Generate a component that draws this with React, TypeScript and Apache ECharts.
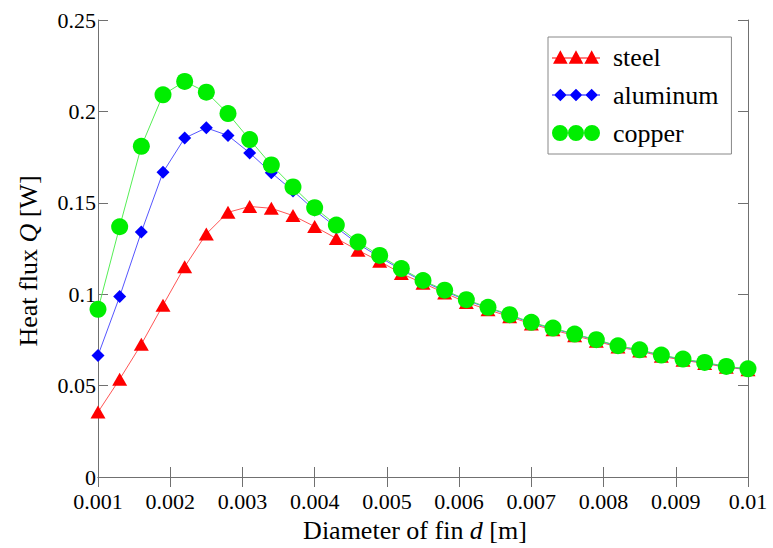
import React, { useEffect, useRef } from "react";
import * as echarts from "echarts";

const diameters = [
  0.001, 0.0013, 0.0016, 0.0019, 0.0022, 0.0025, 0.0028, 0.0031, 0.0034, 0.0037,
  0.004, 0.0043, 0.0046, 0.0049, 0.0052, 0.0055, 0.0058, 0.0061, 0.0064, 0.0067,
  0.007, 0.0073, 0.0076, 0.0079, 0.0082, 0.0085, 0.0088, 0.0091, 0.0094, 0.0097, 0.01,
];

const steel = [
  0.0355, 0.0535, 0.0726, 0.094, 0.115, 0.133, 0.1448, 0.148, 0.147, 0.143,
  0.137, 0.1305, 0.124, 0.118, 0.1113, 0.106, 0.1007, 0.0955, 0.0915, 0.0877,
  0.0837, 0.0805, 0.0773, 0.0743, 0.0711, 0.0689, 0.066, 0.0639, 0.0621, 0.06, 0.0587,
];

const aluminum = [
  0.0665, 0.0987, 0.134, 0.1667, 0.1854, 0.191, 0.1868, 0.1773, 0.1665, 0.1565,
  0.146, 0.1365, 0.1275, 0.1203, 0.1133, 0.107, 0.1017, 0.0966, 0.0925, 0.0885,
  0.0843, 0.0812, 0.078, 0.0749, 0.0716, 0.0694, 0.0665, 0.0643, 0.0625, 0.0603, 0.059,
];

const copper = [
  0.0917, 0.1369, 0.1809, 0.2091, 0.2164, 0.2105, 0.1988, 0.1846, 0.1707, 0.1587,
  0.1473, 0.1378, 0.1285, 0.1212, 0.114, 0.1075, 0.1022, 0.097, 0.0928, 0.0888,
  0.0846, 0.0815, 0.0782, 0.0751, 0.0718, 0.0696, 0.0667, 0.0645, 0.0627, 0.0605, 0.0592,
];

const seriesNames = ["steel", "aluminum", "copper"];
const xTitle = ["Diameter of fin ", "d", " [m]"];
const yTitle = ["Heat flux ", "Q", " [W]"];

const FONT = "Liberation Serif";
const AXIS_COLOR = "#707070";

const triIcon =
  "path://M1 14 L8 1 L15 14 Z M16 14 L23 1 L30 14 Z M31 14 L38 1 L45 14 Z M0 8 L46 8 L46 9 L0 9 Z";
const diaIcon =
  "path://M2 8 L8 2 L14 8 L8 14 Z M17 8 L23 2 L29 8 L23 14 Z M32 8 L38 2 L44 8 L38 14 Z M0 7.5 L46 7.5 L46 8.5 L0 8.5 Z";
const circIcon =
  "path://M0 8 A8 8 0 1 0 16 8 A8 8 0 1 0 0 8 Z M16 8 A8 8 0 1 0 32 8 A8 8 0 1 0 16 8 Z M32 8 A8 8 0 1 0 48 8 A8 8 0 1 0 32 8 Z";

function pairs(ys: number[]) {
  return diameters.map((x, i) => [x, ys[i]]);
}

export default function App() {
  const ref = useRef<HTMLDivElement>(null);

  useEffect(() => {
    if (!ref.current) return;
    const chart = echarts.init(ref.current, undefined, { renderer: "svg" });

    const xFmt = (v: number) => `{n|${String(+v.toFixed(4))}}`;
    const yFmt = (v: number) => `{n|${String(+v.toFixed(3))}}`;

    const baseAxisLine = { show: true, lineStyle: { color: AXIS_COLOR, width: 1 } };
    const baseTick = { show: true, inside: true, length: 10, lineStyle: { color: AXIS_COLOR, width: 1 } };

    const titleRich = {
      a: { fontFamily: FONT, fontSize: 26, fill: "#000" },
      i: { fontFamily: FONT, fontSize: 26, fontStyle: "italic", fill: "#000" },
    };

    chart.setOption({
      animation: false,
      backgroundColor: "#ffffff",
      textStyle: { fontFamily: FONT },
      grid: { left: 98, right: 25, top: 20, bottom: 71, containLabel: false },
      xAxis: [
        {
          type: "value",
          min: 0.001,
          max: 0.01,
          interval: 0.001,
          axisLine: baseAxisLine,
          axisTick: baseTick,
          splitLine: { show: false },
          axisLabel: {
            formatter: xFmt,
            margin: 14,
            rich: { n: { fontFamily: FONT, fontSize: 22, color: "#000", lineHeight: 20 } },
          },
        },
        {
          type: "value",
          position: "top",
          min: 0.001,
          max: 0.01,
          interval: 0.001,
          axisLine: baseAxisLine,
          axisTick: baseTick,
          splitLine: { show: false },
          axisLabel: { show: false },
        },
      ],
      yAxis: [
        {
          type: "value",
          min: 0,
          max: 0.25,
          interval: 0.05,
          axisLine: baseAxisLine,
          axisTick: baseTick,
          splitLine: { show: false },
          axisLabel: {
            formatter: yFmt,
            margin: 2,
            rich: { n: { fontFamily: FONT, fontSize: 22, color: "#000", lineHeight: 16 } },
          },
        },
        {
          type: "value",
          position: "right",
          min: 0,
          max: 0.25,
          interval: 0.05,
          axisLine: baseAxisLine,
          axisTick: baseTick,
          splitLine: { show: false },
          axisLabel: { show: false },
        },
      ],
      legend: {
        left: 548,
        top: 37,
        orient: "vertical",
        selectedMode: false,
        backgroundColor: "#ffffff",
        borderColor: "#888888",
        borderWidth: 1,
        padding: [7, 13, 8, 4],
        itemWidth: 48,
        itemHeight: 16,
        itemGap: 12,
        formatter: (name: string) => `{n|${name}}`,
        textStyle: {
          rich: {
            n: { fontFamily: FONT, fontSize: 26, color: "#000", lineHeight: 26, padding: [0, 0, 0, 8] },
          },
        },
        data: [
          { name: seriesNames[0], icon: triIcon },
          { name: seriesNames[1], icon: diaIcon },
          { name: seriesNames[2], icon: circIcon },
        ],
      },
      graphic: [
        {
          type: "text",
          x: 415,
          y: 530,
          style: {
            text: `{a|${xTitle[0]}}{i|${xTitle[1]}}{a|${xTitle[2]}}`,
            align: "center",
            verticalAlign: "middle",
            rich: titleRich,
          },
        },
        {
          type: "text",
          x: 28,
          y: 261,
          rotation: Math.PI / 2,
          style: {
            text: `{a|${yTitle[0]}}{i|${yTitle[1]}}{a|${yTitle[2]}}`,
            align: "center",
            verticalAlign: "middle",
            rich: titleRich,
          },
        },
      ],
      series: [
        {
          name: seriesNames[0],
          type: "line",
          data: pairs(steel),
          symbol: "triangle",
          symbolSize: [15, 13],
          itemStyle: { color: "#ff0000" },
          lineStyle: { color: "#ff5555", width: 1 },
        },
        {
          name: seriesNames[1],
          type: "line",
          data: pairs(aluminum),
          symbol: "diamond",
          symbolSize: [13, 13],
          itemStyle: { color: "#0000ff" },
          lineStyle: { color: "#5555ff", width: 1 },
        },
        {
          name: seriesNames[2],
          type: "line",
          data: pairs(copper),
          symbol: "circle",
          symbolSize: 17,
          itemStyle: { color: "#00ee00" },
          lineStyle: { color: "#55ee55", width: 1 },
        },
      ],
    });

    return () => chart.dispose();
  }, []);

  return (
    <div
      ref={ref}
      style={{ position: "absolute", left: 0, top: 0, width: 773, height: 548, background: "#fff" }}
    />
  );
}
